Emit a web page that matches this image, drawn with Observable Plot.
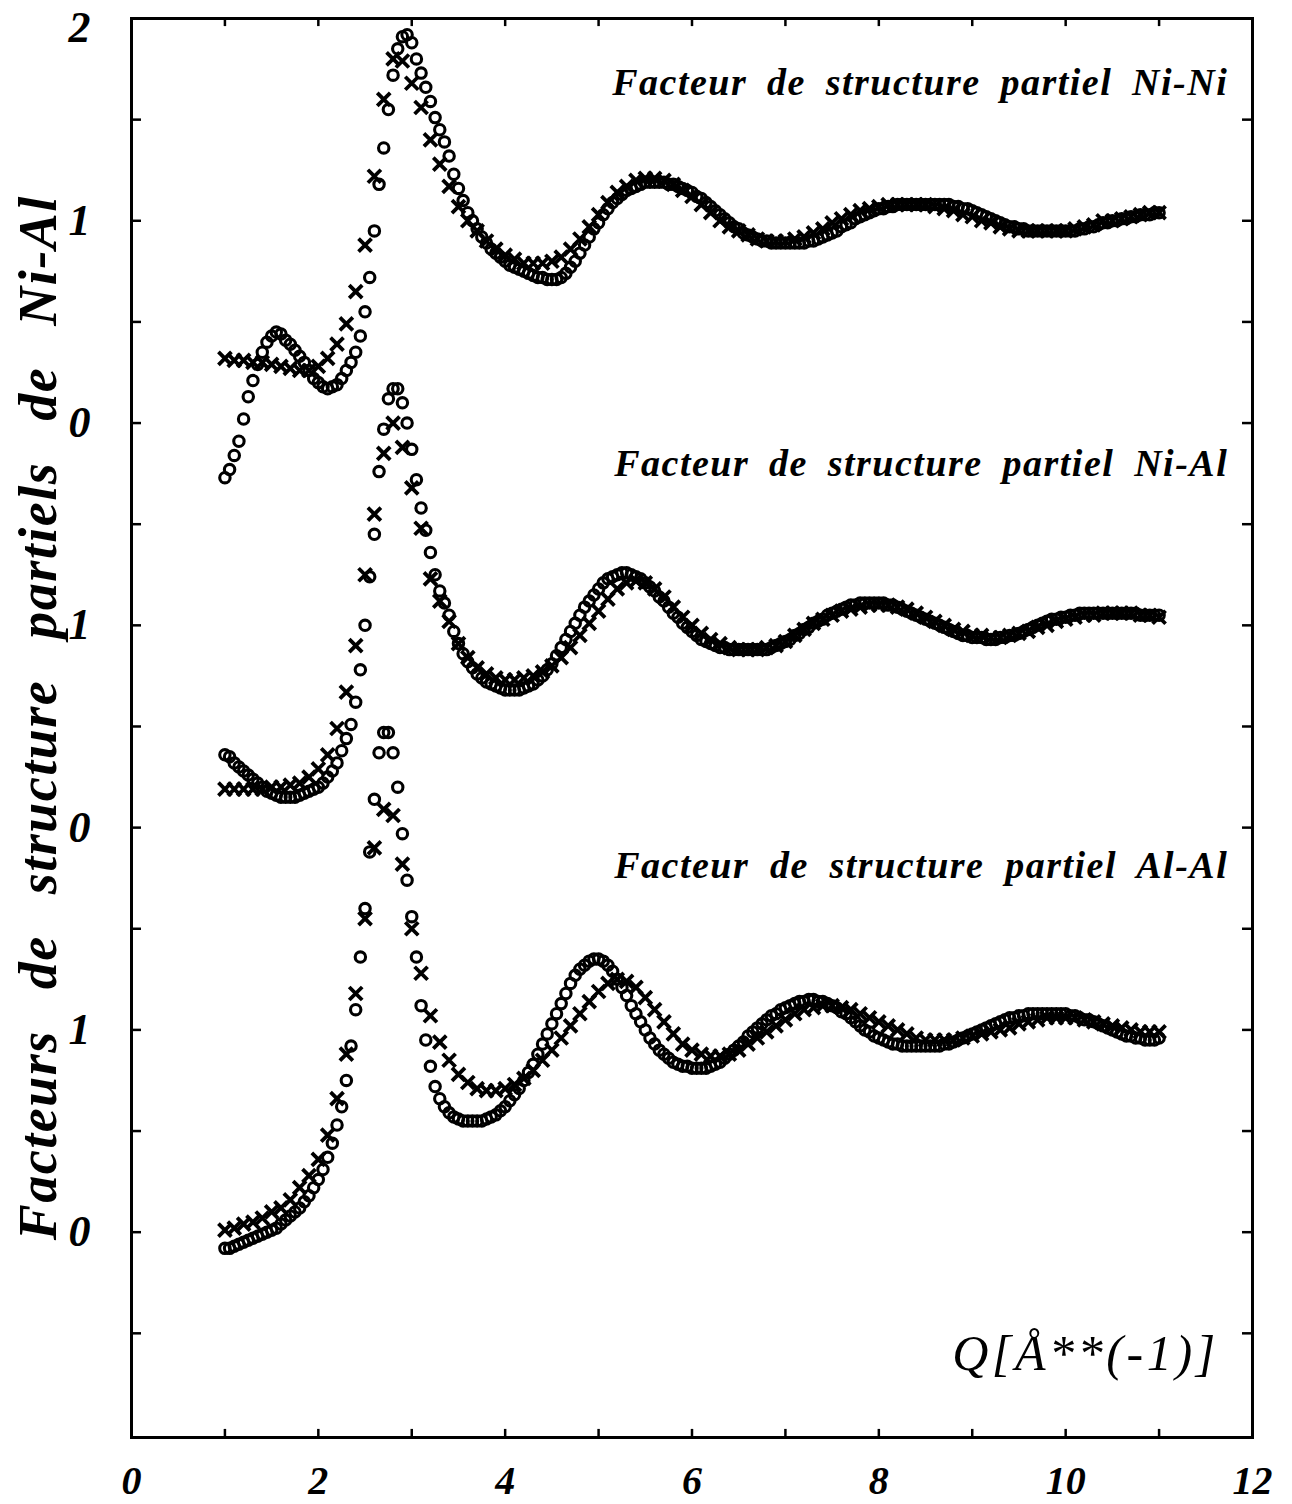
<!DOCTYPE html>
<html><head><meta charset="utf-8">
<script src="https://cdn.jsdelivr.net/npm/d3@7"></script>
<script src="https://cdn.jsdelivr.net/npm/@observablehq/plot@0.6"></script>
<style>
html,body{margin:0;padding:0;background:#fff;}
</style></head><body><div id="chart"></div>
<script>
// Q grids (Å^-1): circles every 0.05, crosses every 0.1, from 1 to 11
const qCircle = d3.range(0, 201).map(i => +(1 + i * 0.05).toFixed(2));
const qCross = d3.range(0, 101).map(i => +(1 + i * 0.1).toFixed(1));

// Ni-Ni partial structure factor (circles)
const niniCircles = [
-0.27,-0.23,-0.16,-0.09,0.02,0.13,0.21,0.29,0.35,0.40,
0.43,0.45,0.44,0.41,0.39,0.36,0.33,0.30,0.26,0.22,
0.20,0.18,0.17,0.18,0.19,0.22,0.26,0.30,0.35,0.43,
0.55,0.72,0.95,1.18,1.36,1.55,1.72,1.85,1.91,1.92,
1.88,1.80,1.73,1.66,1.59,1.51,1.45,1.39,1.32,1.23,
1.16,1.10,1.04,1.00,0.96,0.92,0.89,0.86,0.84,0.82,
0.80,0.78,0.77,0.76,0.75,0.74,0.73,0.72,0.72,0.71,
0.71,0.71,0.72,0.74,0.77,0.80,0.84,0.88,0.92,0.96,
0.99,1.03,1.06,1.09,1.11,1.13,1.15,1.16,1.17,1.18,
1.19,1.19,1.19,1.19,1.19,1.18,1.18,1.17,1.16,1.15,
1.14,1.12,1.11,1.09,1.07,1.05,1.03,1.01,0.99,0.97,
0.96,0.94,0.93,0.92,0.91,0.90,0.90,0.89,0.89,0.89,
0.89,0.89,0.89,0.89,0.89,0.90,0.90,0.91,0.92,0.93,
0.94,0.95,0.97,0.98,0.99,1.01,1.02,1.03,1.04,1.05,
1.06,1.06,1.07,1.07,1.08,1.08,1.08,1.08,1.08,1.08,
1.08,1.08,1.08,1.08,1.08,1.08,1.07,1.07,1.06,1.06,
1.05,1.04,1.03,1.02,1.01,1.00,0.99,0.98,0.97,0.97,
0.96,0.96,0.95,0.95,0.95,0.95,0.95,0.95,0.95,0.95,
0.95,0.95,0.95,0.96,0.96,0.97,0.97,0.98,0.99,0.99,
1.00,1.00,1.01,1.01,1.02,1.02,1.03,1.03,1.03,1.04,
1.04];
// Ni-Ni (crosses)
const niniCrosses = [
0.32,0.31,0.31,0.30,0.30,0.29,0.28,0.27,0.26,0.26,
0.28,0.32,0.39,0.49,0.65,0.88,1.22,1.60,1.80,1.79,
1.68,1.56,1.40,1.28,1.17,1.07,1.00,0.95,0.90,0.86,
0.83,0.81,0.79,0.79,0.79,0.80,0.82,0.86,0.91,0.97,
1.03,1.09,1.14,1.17,1.20,1.21,1.21,1.20,1.18,1.15,
1.12,1.08,1.04,1.00,0.97,0.95,0.93,0.91,0.90,0.90,
0.90,0.91,0.92,0.94,0.96,0.99,1.01,1.03,1.05,1.06,
1.07,1.08,1.08,1.08,1.08,1.08,1.07,1.06,1.05,1.03,
1.02,1.00,0.99,0.97,0.96,0.95,0.95,0.95,0.95,0.95,
0.95,0.96,0.97,0.98,1.00,1.00,1.01,1.02,1.03,1.04,
1.04];

// Ni-Al partial structure factor (circles)
const nialCircles = [
0.36,0.35,0.32,0.30,0.28,0.26,0.24,0.22,0.20,0.18,
0.17,0.16,0.15,0.15,0.15,0.15,0.16,0.17,0.18,0.19,
0.20,0.22,0.25,0.28,0.32,0.38,0.44,0.51,0.62,0.78,
1.00,1.24,1.45,1.76,1.97,2.12,2.17,2.17,2.10,2.00,
1.87,1.72,1.58,1.47,1.36,1.25,1.17,1.11,1.05,0.97,
0.91,0.86,0.82,0.79,0.76,0.74,0.72,0.71,0.70,0.69,
0.68,0.68,0.68,0.68,0.69,0.70,0.71,0.73,0.75,0.78,
0.81,0.85,0.89,0.93,0.97,1.01,1.05,1.09,1.12,1.15,
1.18,1.21,1.23,1.24,1.25,1.26,1.26,1.25,1.24,1.23,
1.21,1.19,1.17,1.14,1.12,1.09,1.06,1.04,1.01,0.99,
0.97,0.95,0.93,0.92,0.91,0.90,0.89,0.89,0.88,0.88,
0.88,0.88,0.88,0.88,0.88,0.88,0.88,0.89,0.90,0.91,
0.92,0.93,0.95,0.96,0.98,0.99,1.01,1.02,1.03,1.05,
1.06,1.07,1.08,1.09,1.10,1.10,1.11,1.11,1.11,1.11,
1.11,1.11,1.10,1.10,1.09,1.08,1.07,1.06,1.05,1.04,
1.03,1.02,1.01,1.00,0.99,0.98,0.97,0.96,0.95,0.95,
0.94,0.94,0.94,0.93,0.93,0.93,0.94,0.94,0.95,0.95,
0.96,0.97,0.98,0.99,1.00,1.01,1.02,1.03,1.03,1.04,
1.04,1.05,1.05,1.06,1.06,1.06,1.06,1.06,1.06,1.06,
1.06,1.06,1.06,1.06,1.06,1.06,1.05,1.05,1.05,1.05,
1.05];
// Ni-Al (crosses)
const nialCrosses = [
0.19,0.19,0.19,0.19,0.19,0.20,0.20,0.21,0.22,0.25,
0.29,0.36,0.49,0.67,0.90,1.25,1.55,1.85,2.00,1.88,
1.68,1.48,1.23,1.12,1.02,0.91,0.84,0.79,0.76,0.74,
0.73,0.73,0.74,0.75,0.77,0.80,0.84,0.89,0.95,1.01,
1.07,1.13,1.18,1.21,1.22,1.21,1.18,1.14,1.09,1.04,
1.00,0.96,0.93,0.91,0.89,0.88,0.88,0.88,0.89,0.90,
0.92,0.95,0.98,1.01,1.03,1.05,1.07,1.08,1.09,1.10,
1.10,1.10,1.09,1.08,1.06,1.04,1.02,1.00,0.98,0.97,
0.95,0.95,0.94,0.94,0.95,0.96,0.97,0.99,1.00,1.02,
1.03,1.04,1.05,1.05,1.06,1.06,1.06,1.06,1.05,1.05,
1.04];

// Al-Al partial structure factor (circles)
const alalCircles = [
-0.08,-0.08,-0.07,-0.06,-0.05,-0.04,-0.03,-0.02,-0.01,0.00,
0.01,0.02,0.04,0.06,0.08,0.10,0.12,0.15,0.18,0.22,
0.26,0.31,0.37,0.44,0.53,0.62,0.75,0.92,1.10,1.36,
1.60,1.88,2.14,2.37,2.47,2.47,2.37,2.20,1.97,1.74,
1.56,1.36,1.12,0.95,0.82,0.72,0.66,0.62,0.59,0.57,
0.56,0.55,0.55,0.55,0.55,0.55,0.56,0.57,0.58,0.60,
0.62,0.65,0.68,0.71,0.75,0.79,0.83,0.88,0.93,0.98,
1.03,1.08,1.13,1.18,1.23,1.27,1.30,1.32,1.34,1.35,
1.35,1.34,1.32,1.29,1.25,1.21,1.17,1.12,1.08,1.04,
1.00,0.96,0.93,0.90,0.88,0.86,0.84,0.83,0.82,0.82,
0.81,0.81,0.81,0.81,0.82,0.83,0.84,0.86,0.88,0.90,
0.92,0.94,0.97,0.99,1.01,1.03,1.05,1.07,1.08,1.10,
1.11,1.12,1.13,1.14,1.14,1.15,1.15,1.14,1.14,1.13,
1.12,1.11,1.09,1.08,1.06,1.04,1.02,1.00,0.99,0.97,
0.96,0.95,0.94,0.93,0.93,0.92,0.92,0.92,0.92,0.92,
0.92,0.92,0.92,0.92,0.93,0.93,0.94,0.95,0.96,0.97,
0.98,0.99,1.00,1.01,1.02,1.03,1.04,1.05,1.06,1.06,
1.07,1.07,1.08,1.08,1.08,1.08,1.08,1.08,1.08,1.08,
1.08,1.07,1.07,1.06,1.05,1.05,1.04,1.03,1.02,1.01,
1.00,0.99,0.98,0.97,0.97,0.96,0.96,0.95,0.95,0.95,
0.96];
// Al-Al (crosses)
const alalCrosses = [
0.01,0.02,0.04,0.05,0.07,0.10,0.12,0.16,0.22,0.28,
0.36,0.48,0.66,0.88,1.18,1.55,1.90,2.09,2.06,1.82,
1.50,1.28,1.07,0.94,0.85,0.78,0.74,0.71,0.70,0.70,
0.71,0.73,0.76,0.80,0.85,0.90,0.96,1.02,1.08,1.14,
1.19,1.23,1.25,1.24,1.21,1.16,1.10,1.04,0.98,0.93,
0.90,0.88,0.87,0.87,0.88,0.90,0.93,0.96,0.99,1.02,
1.05,1.08,1.10,1.11,1.12,1.12,1.11,1.10,1.08,1.06,
1.04,1.02,1.00,0.98,0.96,0.95,0.95,0.95,0.95,0.96,
0.97,0.98,0.99,1.00,1.01,1.03,1.04,1.05,1.06,1.06,
1.06,1.06,1.05,1.04,1.03,1.02,1.01,1.00,0.99,0.99,
0.99];

// Vertical stacking of the three curves (Ni-Ni, Ni-Al, Al-Al)
const curveNames = ["Ni-Ni", "Ni-Al", "Al-Al"];
const curveOffsets = [4, 2, 0];
const circleSets = [niniCircles, nialCircles, alalCircles];
const crossSets = [niniCrosses, nialCrosses, alalCrosses];

const panelLabels = ["Facteur de structure partiel Ni-Ni", "Facteur de structure partiel Ni-Al", "Facteur de structure partiel Al-Al"];
const yTitle = "Facteurs de structure partiels de Ni-Al";
const xLabel = "Q[Å**(-1)]";

// tick labels
const xTickValues = [0, 2, 4, 6, 8, 10, 12];
const xTickLabels = ["0", "2", "4", "6", "8", "10", "12"];
const yTickValues = [0, 1, 2, 3, 4, 5, 6];
const yTickLabels = ["0", "1", "0", "1", "0", "1", "2"];
const xTickMarks = [1, 2, 3, 4, 5, 6, 7, 8, 9, 10, 11];
const yTickMarks = [-0.5, 0, 0.5, 1, 1.5, 2, 2.5, 3, 3.5, 4, 4.5, 5, 5.5];

const circleRows = circleSets.flatMap((vals, k) => vals.map((v, i) => ({q: qCircle[i], s: v + curveOffsets[k], curve: curveNames[k]})));
const crossRows = crossSets.flatMap((vals, k) => vals.map((v, i) => ({q: qCross[i], s: v + curveOffsets[k], curve: curveNames[k]})));

const crossSymbol = {
  draw(context, size) {
    const h = Math.sqrt(size / Math.PI);
    context.moveTo(-h, -h); context.lineTo(h, h);
    context.moveTo(-h, h); context.lineTo(h, -h);
  }
};

const serif = "'Liberation Serif', 'DejaVu Serif', serif";
const tx = 0.107, ty = 0.05; // tick length in data units (~10px)
const bi = {fontWeight: "bold", fontStyle: "italic", fontFamily: serif, fill: "black"};
const yLab = d => yTickLabels[yTickValues.indexOf(d)];

const plot = Plot.plot({
  width: 1292,
  height: 1504,
  marginTop: 18,
  marginRight: 40,
  marginBottom: 67,
  marginLeft: 131,
  x: {domain: [0, 12]},
  y: {domain: [-1.015, 6]},
  style: {background: "white", color: "black", fontFamily: serif},
  marks: [
    Plot.frame({stroke: "black", strokeWidth: 3}),
    Plot.ruleY(yTickMarks, {x1: 0, x2: tx, stroke: "black", strokeWidth: 2.5}),
    Plot.ruleY(yTickMarks, {x1: 12 - tx, x2: 12, stroke: "black", strokeWidth: 2.5}),
    Plot.ruleX(xTickMarks, {y1: -1.015, y2: -1.015 + ty * 0.8, stroke: "black", strokeWidth: 2.5}),
    Plot.ruleX(xTickMarks, {y1: 6 - ty * 0.8, y2: 6, stroke: "black", strokeWidth: 2.5}),
    Plot.axisX(xTickValues, {anchor: "bottom", tickSize: 0, tickPadding: 28, tickFormat: d => xTickLabels[xTickValues.indexOf(d)], label: null, fontSize: 40, fontWeight: "bold", fontStyle: "italic", fontFamily: serif}),
    Plot.axisY(yTickValues.slice(0, 6), {anchor: "left", tickSize: 0, tickPadding: 41, tickFormat: yLab, label: null, fontSize: 44, fontWeight: "bold", fontStyle: "italic", fontFamily: serif}),
    Plot.axisY(yTickValues.slice(6), {anchor: "left", tickSize: 0, tickPadding: 41, dy: 9, tickFormat: yLab, label: null, fontSize: 44, fontWeight: "bold", fontStyle: "italic", fontFamily: serif}),
    Plot.dot(circleRows, {x: "q", y: "s", r: 5.2, stroke: "black", strokeWidth: 3.1, fill: "none"}),
    Plot.dot(crossRows, {x: "q", y: "s", r: 6.5, symbol: crossSymbol, stroke: "black", strokeWidth: 3.8, fill: "none"}),
    Plot.text([panelLabels[0]], {x: 11.74, y: 5.68, textAnchor: "end", fontSize: 38, ...bi}),
    Plot.text([panelLabels[1]], {x: 11.74, y: 3.80, textAnchor: "end", fontSize: 38, ...bi}),
    Plot.text([panelLabels[2]], {x: 11.74, y: 1.81, textAnchor: "end", fontSize: 38, ...bi}),
    Plot.text([xLabel], {x: 11.60, y: -0.60, textAnchor: "end", fontSize: 50, fontStyle: "italic", fontFamily: serif, fill: "black"}),
    Plot.text([yTitle], {x: -0.99, y: -0.04, textAnchor: "start", rotate: -90, fontSize: 54, ...bi})
  ]
});

document.getElementById("chart").appendChild(plot);

// spread letters slightly and words widely to match the reference text extents
const spreadWords = (txt, len, letter) => {
  plot.querySelectorAll("text").forEach(t => {
    if (t.textContent === txt) {
      const spaces = (txt.match(/ /g) || []).length;
      if (spaces === 0) { t.setAttribute("textLength", len); t.setAttribute("lengthAdjust", "spacing"); return; }
      t.style.letterSpacing = letter + "px";
      const natural = t.getComputedTextLength();
      if (len > natural) t.style.wordSpacing = ((len - natural) / spaces) + "px";
    }
  });
};
spreadWords(panelLabels[0], 616, 1.5);
spreadWords(panelLabels[1], 614, 1.5);
spreadWords(panelLabels[2], 614, 1.5);
spreadWords(xLabel, 263, 0);
spreadWords(yTitle, 1045, 1.5);
</script></body></html>
